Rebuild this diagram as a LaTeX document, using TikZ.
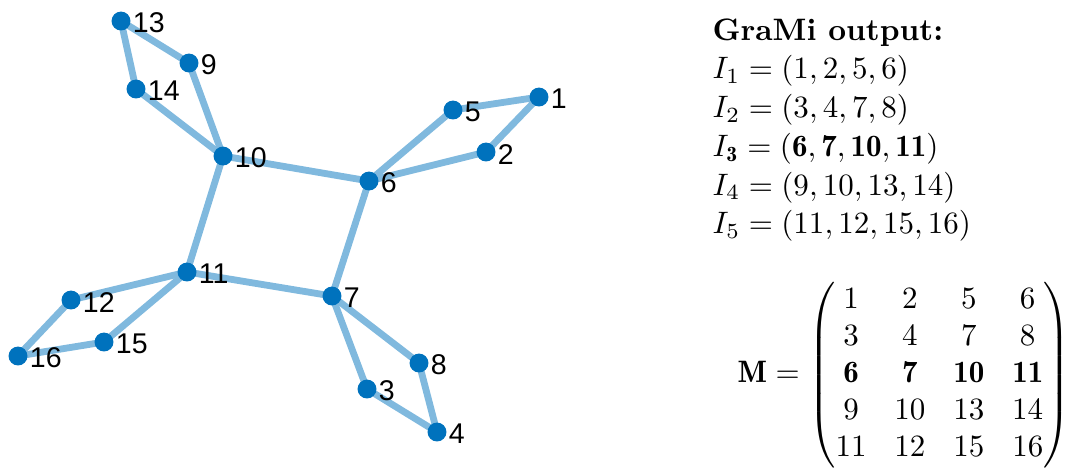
\documentclass[tikz,border=0pt]{standalone}
\usepackage{amsmath}
\usepackage{amssymb}
\usepackage{fontspec}
\newfontfamily\lblfont{Liberation Sans}
\usepackage{tikz}
\usetikzlibrary{backgrounds}
\definecolor{dotblue}{RGB}{0,114,189}
\definecolor{edgeblue}{RGB}{128,185,222}

\begin{document}
\begin{tikzpicture}[
    x=0.01134cm, y=-0.01134cm,
    vertex/.style={circle, fill=dotblue, inner sep=0pt, minimum size=6.1pt},
    numlabel/.style={font=\fontsize{9.2}{11}\lblfont, inner sep=0.4pt, yshift=-0.7pt},
    link/.style={draw=edgeblue, line width=2.2pt},
    textblock/.style={align=left, inner sep=0pt}
  ]
    \useasboundingbox (0,0) rectangle (1067,467);
    % graph
    \node[vertex, label={[numlabel]east:1}] (v1) at (539,97) {};
    \node[vertex, label={[numlabel]east:2}] (v2) at (486,152) {};
    \node[vertex, label={[numlabel]east:3}] (v3) at (367,389) {};
    \node[vertex, label={[numlabel]east:4}] (v4) at (437,432) {};
    \node[vertex, label={[numlabel]east:5}] (v5) at (453,110) {};
    \node[vertex, label={[numlabel]east:6}] (v6) at (369,181) {};
    \node[vertex, label={[numlabel]east:7}] (v7) at (332,296) {};
    \node[vertex, label={[numlabel]east:8}] (v8) at (419,363) {};
    \node[vertex, label={[numlabel]east:9}] (v9) at (189,63) {};
    \node[vertex, label={[numlabel]east:10}] (v10) at (223,156) {};
    \node[vertex, label={[numlabel]east:11}] (v11) at (187,272) {};
    \node[vertex, label={[numlabel]east:12}] (v12) at (71,300) {};
    \node[vertex, label={[numlabel]east:13}] (v13) at (121,21) {};
    \node[vertex, label={[numlabel]east:14}] (v14) at (136,89) {};
    \node[vertex, label={[numlabel]east:15}] (v15) at (104,342) {};
    \node[vertex, label={[numlabel]east:16}] (v16) at (18,356) {};
    \begin{scope}[on background layer]
      \draw[link] (v13.center) -- (v9.center);
      \draw[link] (v13.center) -- (v14.center);
      \draw[link] (v9.center) -- (v10.center);
      \draw[link] (v14.center) -- (v10.center);
      \draw[link] (v10.center) -- (v6.center);
      \draw[link] (v10.center) -- (v11.center);
      \draw[link] (v6.center) -- (v5.center);
      \draw[link] (v6.center) -- (v2.center);
      \draw[link] (v5.center) -- (v1.center);
      \draw[link] (v2.center) -- (v1.center);
      \draw[link] (v6.center) -- (v7.center);
      \draw[link] (v11.center) -- (v7.center);
      \draw[link] (v11.center) -- (v12.center);
      \draw[link] (v11.center) -- (v15.center);
      \draw[link] (v12.center) -- (v16.center);
      \draw[link] (v15.center) -- (v16.center);
      \draw[link] (v7.center) -- (v8.center);
      \draw[link] (v7.center) -- (v3.center);
      \draw[link] (v8.center) -- (v4.center);
      \draw[link] (v3.center) -- (v4.center);
    \end{scope}
    % output
    \node[textblock, anchor=north west] (grami) at (712,18) {\textbf{GraMi output:}\\[0.5pt]
      $I_1 = (1, 2, 5, 6)$\\[0.5pt]
      $I_2 = (3, 4, 7, 8)$\\[0.5pt]
      $I_{\mathbf{3}} = (\mathbf{6}, \mathbf{7}, \mathbf{10}, \mathbf{11})$\\[0.5pt]
      $I_4 = (9, 10, 13, 14)$\\[0.5pt]
      $I_5 = (11, 12, 15, 16)$};
    \node[anchor=east, inner sep=0pt] (mEq) at (1071,375) {\setlength{\arraycolsep}{4.5pt}$\mathbf{M} = \begin{pmatrix}
        1 & 2 & 5 & 6\\
        3 & 4 & 7 & 8\\
        \mathbf{6} & \mathbf{7} & \mathbf{10} & \mathbf{11}\\
        9 & 10 & 13 & 14\\
        11 & 12 & 15 & 16
      \end{pmatrix}$};
  \end{tikzpicture}
\end{document}
